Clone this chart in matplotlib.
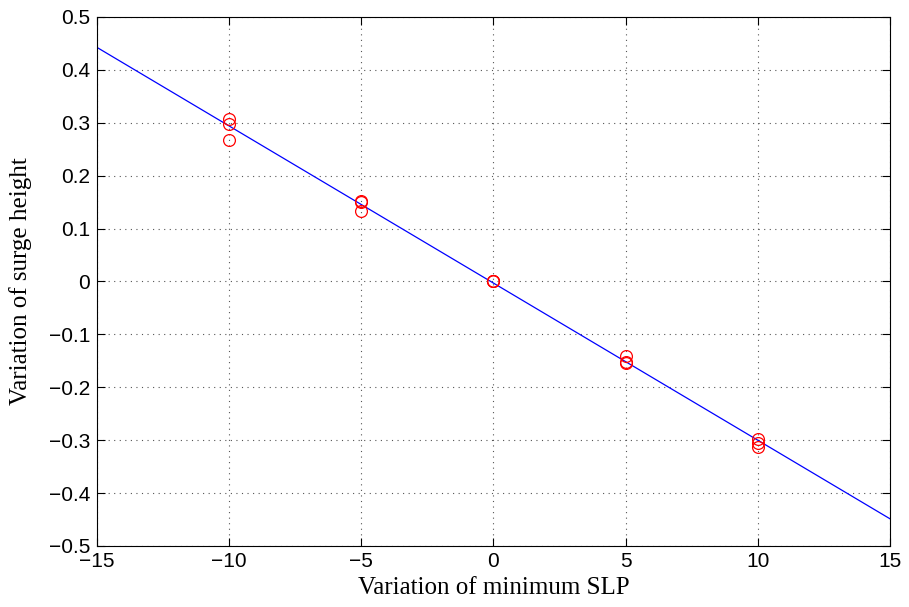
import matplotlib
matplotlib.use("Agg")
import matplotlib.pyplot as plt
import numpy as np

# sensitivity runs: change of minimum SLP vs change of surge height
slp_change = [-10, -10, -10, -5, -5, -5, 0, 0, 0, 5, 5, 5, 10, 10, 10]
surge_change = [0.307, 0.298, 0.268, 0.152, 0.150, 0.133, 0.0, 0.0, 0.0,
                -0.141, -0.152, -0.154, -0.298, -0.305, -0.313]

# fitted line
fit_slope = -0.0297
fit_intercept = -0.003
fit_x = [-15, 15]

fig = plt.figure(figsize=(9.09, 6.07), dpi=100)
ax = fig.add_axes([0.1067, 0.1005, 0.8723, 0.8715])

fx = np.array(fit_x)
ax.plot(fx, fit_slope * fx + fit_intercept, color="#0000ff", lw=0.9)
ax.plot(slp_change, surge_change, "o", mfc="none", mec="#ff0000", ms=8.5, mew=0.9)

ax.set_xlim(-15, 15)
ax.set_ylim(-0.5, 0.5)
ax.set_xticks(np.arange(-15, 16, 5))
ax.set_yticks(np.arange(-0.5, 0.51, 0.1))
ax.set_xticklabels(["\u221215", "\u221210", "\u22125", "0", "5", "10", "15"])
ax.set_yticklabels(["\u22120.5", "\u22120.4", "\u22120.3", "\u22120.2", "\u22120.1",
                    "0", "0.1", "0.2", "0.3", "0.4", "0.5"])
ax.grid(True, color="#555555", linestyle=(0, (1, 4)), lw=0.8)
ax.tick_params(direction="in", top=True, right=True, length=6, labelsize=15)
ax.tick_params(axis="y", pad=5)
ax.tick_params(axis="x", pad=4)
for lab in ax.get_xticklabels() + ax.get_yticklabels():
    lab.set_fontfamily("Liberation Sans")
for s in ax.spines.values():
    s.set_linewidth(0.8)

ax.set_xlabel("Variation of minimum SLP", fontfamily="Liberation Serif", fontsize=18)
ax.set_ylabel("Variation of surge height", fontfamily="Liberation Serif", fontsize=18)
ax.xaxis.set_label_coords(0.5, -0.08)
ax.yaxis.set_label_coords(-0.096, 0.5)
ax.xaxis.label.set_va("center")
ax.yaxis.label.set_va("center")

fig.savefig("out.png", dpi=100)
